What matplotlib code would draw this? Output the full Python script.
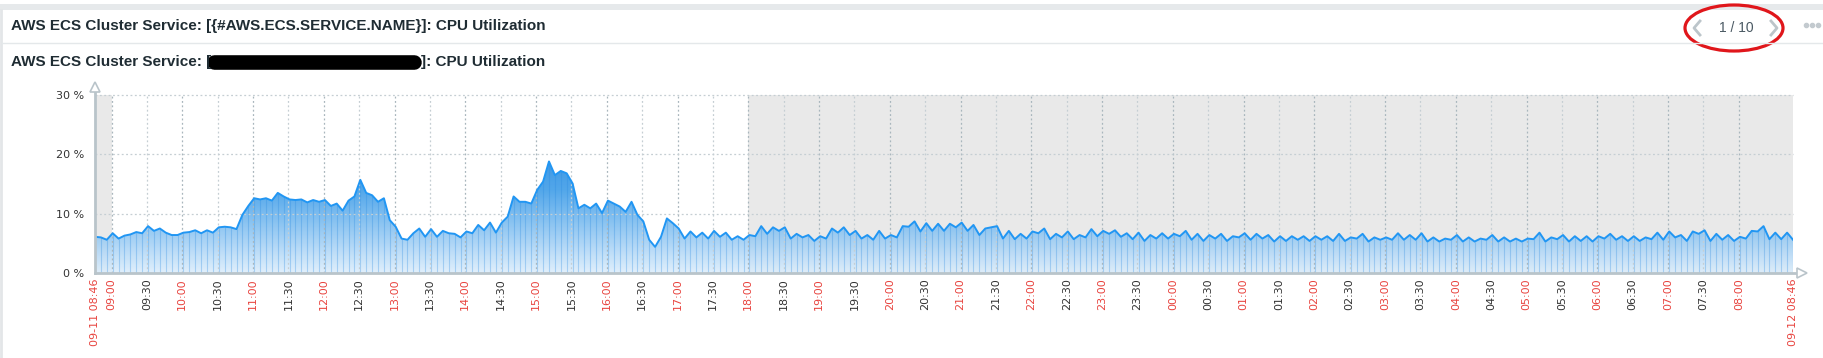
import numpy as np
import pandas as pd
import matplotlib
matplotlib.use("Agg")
import matplotlib.pyplot as plt
import matplotlib.dates as mdates
from matplotlib.colors import LinearSegmentedColormap
from matplotlib.patches import Ellipse, Rectangle
from matplotlib.lines import Line2D

W, H = 1823, 358

header_title = "AWS ECS Cluster Service: [{#AWS.ECS.SERVICE.NAME}]: CPU Utilization"
graph_title_left = "AWS ECS Cluster Service: ["
graph_title_right = "]: CPU Utilization"
pager_text = "1 / 10"

start_time = "2023-09-11 08:46"
step_minutes = 5
work_start, work_end = "2023-09-11 09:00", "2023-09-11 18:00"

# CPU utilization in %, one value every 5 minutes
cpu_util = [
    6.1, 6.0, 5.6, 6.7, 5.8, 6.3, 6.5, 6.9, 6.7, 7.9,
    7.1, 7.5, 6.8, 6.4, 6.4, 6.8, 6.9, 7.2, 6.7, 7.2,
    6.8, 7.7, 7.8, 7.7, 7.4, 9.8, 11.3, 12.6, 12.4, 12.6,
    12.2, 13.5, 12.9, 12.4, 12.3, 12.4, 11.9, 12.3, 12.0, 12.3,
    11.3, 11.7, 10.5, 12.2, 12.9, 15.7, 13.5, 13.1, 12.0,
    12.6, 8.9, 7.8, 5.8, 5.6, 6.7, 7.5, 6.1, 7.4, 6.1,
    7.1, 6.7, 6.6, 6.0, 7.0, 6.7, 8.1, 7.2, 8.5, 6.8,
    8.5, 9.5, 12.9, 12.0, 12.0, 11.7, 14.0, 15.4, 18.8, 16.5,
    17.2, 16.8, 15.1, 10.9, 11.5, 10.9, 11.7, 10.1, 12.2, 11.7,
    11.2, 10.3, 12.0, 9.8, 8.7, 5.6, 4.4, 6.1,
    9.2, 8.4, 7.5, 5.8, 7.0, 6.0, 6.8, 5.8, 7.1, 6.1,
    6.8, 5.6, 6.2, 5.6, 6.4, 6.2, 7.9, 6.6, 7.7, 7.1,
    7.7, 5.8, 6.6, 6.0, 6.4, 5.4, 6.2, 5.8, 7.5, 6.8,
    7.7, 6.4, 7.1, 5.8, 6.4, 5.6, 7.1, 5.8, 6.4, 6.0,
    7.9, 7.8, 8.7, 7.0, 8.4, 7.1, 8.3, 7.1, 8.3,
    7.7, 8.5, 7.1, 8.1, 6.4, 7.5, 7.7, 7.9, 5.8, 7.1,
    5.7, 6.6, 5.8, 7.0, 6.7, 7.5, 5.7, 6.6, 6.0, 7.0,
    5.7, 6.4, 6.0, 7.4, 6.2, 7.1, 6.6, 7.2, 6.1, 6.7,
    5.7, 6.8, 5.4, 6.4, 5.8, 6.7, 5.8, 6.6, 6.2, 7.1,
    5.6, 6.6, 5.4, 6.4, 5.8, 6.6, 5.4, 6.2,
    6.0, 6.7, 5.6, 6.6, 5.8, 6.4, 5.3, 6.2, 5.4, 6.2,
    5.6, 6.2, 5.4, 6.2, 5.6, 6.2, 5.4, 6.6, 5.4, 6.0,
    5.8, 6.6, 5.3, 6.0, 5.6, 6.0, 5.6, 6.7, 5.6, 6.4,
    5.6, 6.7, 5.3, 6.0, 5.3, 5.8, 5.6, 6.4, 5.3, 6.0,
    5.3, 5.8, 5.6, 6.4, 5.3, 6.0, 5.3, 5.8,
    5.3, 5.8, 5.7, 6.8, 5.3, 6.0, 5.7, 6.4, 5.3, 6.2,
    5.4, 6.2, 5.3, 6.2, 5.8, 6.6, 5.6, 6.2, 5.4, 6.2,
    5.4, 6.0, 5.7, 6.8, 5.6, 7.0, 6.0, 6.4, 5.4, 7.0,
    6.6, 7.2, 5.4, 6.6, 5.6, 6.4, 5.4, 6.1, 5.8, 7.1,
    7.0, 7.9, 5.7, 6.8, 5.7, 6.8, 5.6,
]

y_ticks = [0, 10, 20, 30]
y_tick_labels = ["0 %", "10 %", "20 %", "30 %"]

times = pd.date_range(start_time, periods=len(cpu_util), freq=f"{step_minutes}min")
t0, t1 = times[0], times[-1]
tick_times = [t0] + list(pd.date_range("2023-09-11 09:00", "2023-09-12 08:00", freq="30min")) + [t1]
tick_labels = [t.strftime("%m-%d %H:%M") if t in (t0, t1) else t.strftime("%H:%M") for t in tick_times]
tick_colors = ["#e8443f" if (t in (t0, t1) or t.minute == 0) else "#333333" for t in tick_times]


def fx(x):
    return x / W


def fy(y):
    return 1 - y / H


fig = plt.figure(figsize=(W / 100, H / 100), dpi=100)
fig.patch.set_facecolor("white")

# widget frame
fig.add_artist(Rectangle((0, fy(9.5)), 1, 5 / H, transform=fig.transFigure, color="#e6e9eb", lw=0))
fig.add_artist(Line2D([fx(1), fx(1)], [0, fy(9.5)], color="#e3e6e8", lw=2))
fig.add_artist(Line2D([fx(2), 1], [fy(43), fy(43)], color="#e4e8ea", lw=1))

title_kw = dict(fontsize=11, fontweight="bold", family="Liberation Sans", color="#1f2c33", va="center")
fig.text(fx(11), fy(26), header_title, **title_kw)
fig.text(fx(11), fy(62), graph_title_left, **title_kw)
fig.add_artist(Line2D([fx(214), fx(414)], [fy(62), fy(62)], color="black", lw=10.5, solid_capstyle="round"))
fig.text(fx(421), fy(62), graph_title_right, **title_kw)

# pager
fig.text(fx(1736), fy(28), pager_text, fontsize=10, family="Liberation Sans", color="#4a5963",
         ha="center", va="center")
fig.add_artist(Line2D([fx(1700), fx(1694), fx(1700)], [fy(21), fy(28), fy(35)], color="#bcc5ca", lw=2))
fig.add_artist(Line2D([fx(1771), fx(1777), fx(1771)], [fy(21), fy(28), fy(35)], color="#bcc5ca", lw=2))
fig.add_artist(Ellipse((fx(1734), fy(28)), fx(98), 46 / H, transform=fig.transFigure,
                       fill=False, ec="#e0161b", lw=2.3))
for dx in (1806, 1812, 1818):
    fig.add_artist(Line2D([fx(dx)], [fy(25)], marker="o", ms=3, color="#c3cacf", lw=0))

# graph
ax = fig.add_axes([fx(95), fy(273), (1793 - 95) / W, (273 - 95) / H])
ax.set_facecolor("#e9e9e9")
ax.axvspan(pd.Timestamp(work_start), pd.Timestamp(work_end), color="white", lw=0, zorder=0)
ax.set_xlim(t0, t1)
ax.set_ylim(0, 30)

x_num = mdates.date2num(times)
cmap = LinearSegmentedColormap.from_list("zbx", [(0.0, "#ddeefc"), (0.7, "#3a9be8"), (1.0, "#1f86df")])
grad = np.linspace(0, 1, 256).reshape(-1, 1)
poly = ax.fill_between(times, 0, cpu_util, facecolor="none", lw=0)
im = ax.imshow(grad, extent=[x_num[0], x_num[-1], 0, 20], origin="lower", aspect="auto",
               cmap=cmap, alpha=0.88, zorder=2)
im.set_clip_path(poly.get_paths()[0], transform=ax.transData)
ax.vlines(times, 0, cpu_util, color="#2a8ae0", alpha=0.3, lw=0.8, zorder=2.5)
ax.plot(times, cpu_util, color="#2196f3", lw=1.4, zorder=4)

# grid
for t in tick_times[1:-1]:
    c = "#a9b6bd" if t.minute == 0 else "#c5ced3"
    ax.plot([t, t], [0, 30], color=c, lw=0.9, ls=(0, (1.5, 2)), zorder=3)
for yv in y_ticks[1:]:
    ax.plot([t0, t1], [yv, yv], color="#c5ced3", lw=0.9, ls=(0, (1.5, 2)), zorder=3, clip_on=False)

for s in ax.spines.values():
    s.set_visible(False)
axis_c = "#b9c4ca"
ax.plot([t0, t0], [0, 31.0], color=axis_c, lw=2, clip_on=False, zorder=5)
ax.plot([t0], [31.4], marker="^", ms=7, mfc="white", mec=axis_c, mew=1.2, clip_on=False, zorder=6)
t_end = t1 + pd.Timedelta(minutes=5)
ax.plot([t0, t_end], [0, 0], color=axis_c, lw=2, clip_on=False, zorder=5)
ax.plot([t1 + pd.Timedelta(minutes=8)], [0], marker=">", ms=7, mfc="white", mec=axis_c, mew=1.2,
        clip_on=False, zorder=6)

ax.set_yticks(y_ticks)
ax.set_yticklabels(y_tick_labels, fontsize=8, color="#333333", family="DejaVu Sans")
ax.tick_params(axis="y", length=0, pad=8)
ax.set_xticks(tick_times)
ax.set_xticklabels(tick_labels, rotation=90, fontsize=8, family="DejaVu Sans")
for lbl, c in zip(ax.get_xticklabels(), tick_colors):
    lbl.set_color(c)
ax.tick_params(axis="x", length=0, pad=4)

fig.savefig("out.png", dpi=100)
